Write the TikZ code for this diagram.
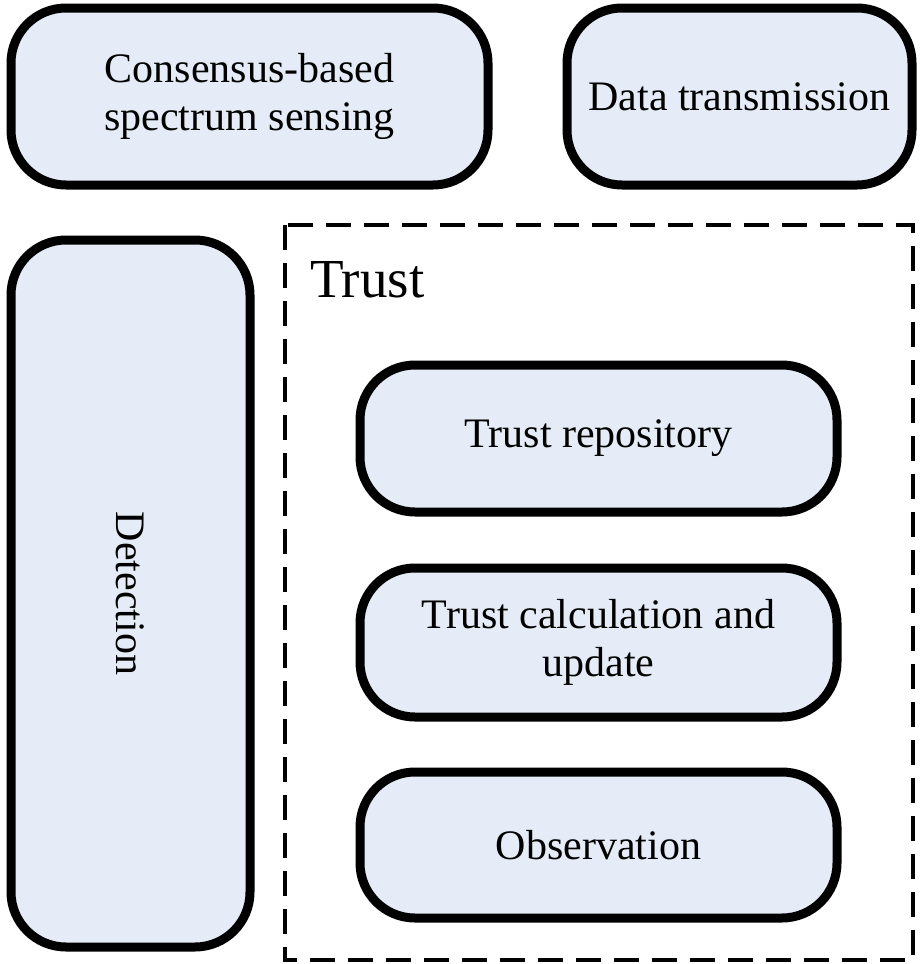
\documentclass[tikz,border=0pt]{standalone}
\usepackage{fontspec}
\setmainfont{Liberation Serif}
\definecolor{boxfill}{RGB}{229,236,247}
\begin{document}
\begin{tikzpicture}[x=1pt,y=-1pt,
  block/.style={draw=black, fill=boxfill, line width=9pt, rounded corners=55pt,
    inner sep=0pt, align=center, font=\fontsize{42}{48}\selectfont},
  group/.style={draw=black, line width=4pt, dash pattern=on 25pt off 13pt}]
  \useasboundingbox (0,0) rectangle (919,964);

  % top row
  \node[block, minimum width=477pt, minimum height=177pt] (sensing) at (249.5,96.5)
    {Consensus-based\\spectrum sensing};
  \node[block, minimum width=345pt, minimum height=177pt] (transmit) at (739.5,96.5)
    {Data transmission};

  % tall detection block with vertical text
  \node[block, minimum width=239pt, minimum height=707pt] (detect) at (130.5,593.5) {};
  \node[rotate=-90, font=\fontsize{42}{48}\selectfont] (detectlabel) at (detect.center) {Detection};

  % trust group
  \draw[group] (285,225) rectangle (913,960);
  \node[anchor=base west, inner sep=0pt, font=\fontsize{55}{60}\selectfont] (trustlabel) at (310,297) {Trust};

  \node[block, minimum width=477pt, minimum height=147pt] (repo) at (598.5,438.5)
    {Trust repository};
  \node[block, minimum width=477pt, minimum height=149pt] (calc) at (598.5,642.5)
    {Trust calculation and\\update};
  \node[block, minimum width=477pt, minimum height=146pt] (observe) at (598.5,845)
    {Observation};
\end{tikzpicture}
\end{document}
